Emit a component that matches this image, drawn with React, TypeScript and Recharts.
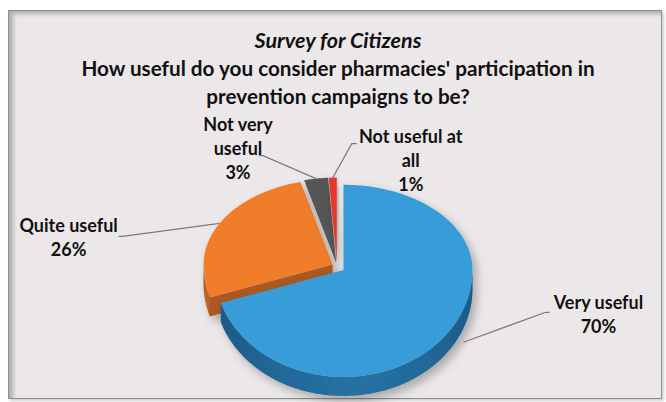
import { PieChart, Pie } from "recharts";

// order starts at "Quite useful" so the big blue slice is painted last (it sits in front)
const categories = ["Quite useful", "Not very useful", "Not useful at all", "Very useful"];
const shares = [26, 3, 1, 70];
const labelText = [["Quite useful"], ["Not very", "useful"], ["Not useful at", "all"], ["Very useful"]];
const percentText = ["26%", "3%", "1%", "70%"];

const COLORS = ["#f07d2c", "#545454", "#e8382d", "#389cd9"];
const SIDES = ["#ab5820", "#333333", "#9c2420", "#1d5b88"];

const data = categories.map((name, i) => ({ name, value: shares[i] }));

// perspective: far half of the pie looks flatter than the near half
const TILT_BACK = 0.66;
const TILT_FRONT = 0.83;
const DEPTH = 19;
const EXPLODE = [5, 5, 5, 8];
const RAD = Math.PI / 180;

// label leader layout: start radius factor, elbow offset, text centre offset
const LABEL_LAYOUT = [
  { r: 1.0, dx: -97, dy: 13, tail: -4, tx: -54, ty: -11 },
  { r: 1.0, dx: -53, dy: -23, tail: -4, tx: -25, ty: -32 },
  { r: 1.0, dx: 19, dy: -34, tail: 5, tx: 59, ty: -8 },
  { r: 1.15, dx: 82, dy: -30, tail: 4, tx: 53, ty: -10 },
];

const tiltOf = (a: number) => (Math.sin(a * RAD) > 0 ? TILT_BACK : TILT_FRONT);

const pt = (cx: number, cy: number, r: number, a: number) => [
  cx + r * Math.cos(a * RAD),
  cy - r * tiltOf(a) * Math.sin(a * RAD),
];

const arcPts = (cx: number, cy: number, r: number, a0: number, a1: number, dy = 0) => {
  const out: string[] = [];
  const n = Math.max(2, Math.ceil(Math.abs(a1 - a0)));
  for (let i = 0; i <= n; i++) {
    const a = a0 + ((a1 - a0) * i) / n;
    const p = pt(cx, cy, r, a);
    out.push(`${p[0].toFixed(2)},${(p[1] + dy).toFixed(2)}`);
  }
  return out;
};

const explodeCenter = (cx: number, cy: number, mid: number, i: number) => [
  cx + EXPLODE[i] * Math.cos(mid * RAD),
  cy - EXPLODE[i] * tiltOf(mid) * Math.sin(mid * RAD),
];

function Slice3D(props: any) {
  const { cx, cy, outerRadius: r, startAngle, endAngle, midAngle, index } = props;
  const lo = Math.min(startAngle, endAngle);
  const hi = Math.max(startAngle, endAngle);
  const [ox, oy] = explodeCenter(cx, cy, midAngle, index);
  const top = [`${ox},${oy}`, ...arcPts(ox, oy, r, lo, hi)].join(" ");

  // radial cut faces, only the ones turned towards the viewer
  const faces: string[] = [];
  const face = (e: number) => {
    const p = pt(ox, oy, r, e);
    faces.push(`${ox},${oy} ${p[0]},${p[1]} ${p[0]},${p[1] + DEPTH} ${ox},${oy + DEPTH}`);
  };
  if (Math.cos(lo * RAD) > 0.5) face(lo);
  if (Math.cos(hi * RAD) < -0.5) face(hi);

  const walls: string[] = [];
  for (let k = -2; k <= 1; k++) {
    const b0 = Math.max(lo, -180 + 360 * k);
    const b1 = Math.min(hi, 360 * k);
    if (b1 - b0 > 0.01) {
      const upper = arcPts(ox, oy, r, b0, b1);
      const lower = arcPts(ox, oy, r, b1, b0, DEPTH);
      walls.push([...upper, ...lower].join(" "));
    }
  }
  const gid = `wall-${index}`;
  const fid = `shadow-${index}`;
  return (
    <g>
      <defs>
        <linearGradient id={gid} x1="0" y1="0" x2="1" y2="0">
          <stop offset="0%" stopColor={SIDES[index]} stopOpacity={1} />
          <stop offset="55%" stopColor={COLORS[index]} stopOpacity={0.6} />
          <stop offset="100%" stopColor={SIDES[index]} stopOpacity={1} />
        </linearGradient>
        <filter id={fid} x="-20%" y="-20%" width="140%" height="150%">
          <feDropShadow dx={4} dy={5} stdDeviation={5} floodColor="#000" floodOpacity={0.28} />
        </filter>
      </defs>
      <g filter={`url(#${fid})`}>
        {faces.map((d, i) => (
          <polygon key={`f${i}`} points={d} fill={SIDES[index]} />
        ))}
        {walls.map((d, i) => (
          <g key={`w${i}`}>
            <polygon points={d} fill={SIDES[index]} />
            <polygon points={d} fill={`url(#${gid})`} opacity={0.55} />
          </g>
        ))}
        <polygon points={top} fill={COLORS[index]} />
      </g>
    </g>
  );
}

const renderLabel = (props: any) => {
  const { cx, cy, midAngle, outerRadius, index } = props;
  const lay = LABEL_LAYOUT[index];
  const [ox, oy] = explodeCenter(cx, cy, midAngle, index);
  const s = pt(ox, oy, outerRadius * lay.r, midAngle);
  const ex = s[0] + lay.dx;
  const ey = s[1] + lay.dy;
  const lines = [...labelText[index], percentText[index]];
  const tx = ex + lay.tx;
  const ty = ey + lay.ty;
  return (
    <g key={`lbl-${index}`}>
      <polyline
        points={`${s[0]},${s[1]} ${ex},${ey} ${ex + lay.tail},${ey}`}
        fill="none"
        stroke="#7b7b7b"
        strokeWidth={1.2}
      />
      <text
        x={tx}
        y={ty}
        textAnchor="middle"
        fill="#111"
        fontFamily="Lato, sans-serif"
        fontWeight={700}
        fontSize={18}
      >
        {lines.map((t, i) => (
          <tspan key={i} x={tx} dy={i === 0 ? 0 : 24} dominantBaseline="central">
            {t}
          </tspan>
        ))}
      </text>
    </g>
  );
};

export default function App() {
  return (
    <div style={{ position: "absolute", left: 0, top: 0, width: 666, height: 402, background: "#fff" }}>
      <div
        style={{
          position: "absolute",
          left: 8,
          top: 10,
          width: 652,
          height: 387,
          background: "#ece8ea",
          border: "1px solid #8e8e8e",
          boxShadow: "inset 4px 3px 4px rgba(0,0,0,0.25), 2px 2px 3px rgba(0,0,0,0.2)",
        }}
      />
      <div
        style={{
          position: "absolute",
          left: 5,
          top: 26,
          width: 666,
          textAlign: "center",
          fontFamily: "Lato, sans-serif",
          fontWeight: 700,
          color: "#111",
        }}
      >
        <div style={{ fontStyle: "italic", fontSize: 21.5, lineHeight: "28px" }}>Survey for Citizens</div>
        <div style={{ fontSize: 20.7, lineHeight: "28px" }}>
          How useful do you consider pharmacies' participation in
        </div>
        <div style={{ fontSize: 20.7, lineHeight: "28px" }}>prevention campaigns to be?</div>
      </div>
      <div style={{ position: "absolute", left: 0, top: 0 }}>
        <PieChart width={666} height={402}>
          <Pie
            data={data}
            dataKey="value"
            nameKey="name"
            cx={332}
            cy={261}
            outerRadius={129}
            startAngle={198}
            endAngle={-162}
            stroke="none"
            labelLine={false}
            label={renderLabel}
            shape={Slice3D}
            isAnimationActive={false}
          />
        </PieChart>
      </div>
    </div>
  );
}
